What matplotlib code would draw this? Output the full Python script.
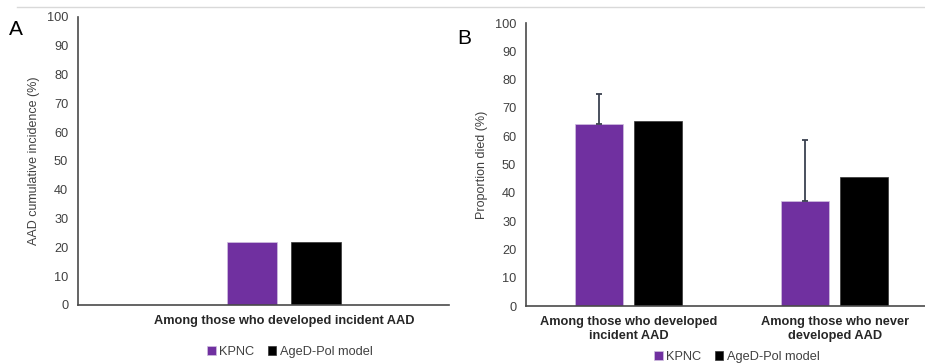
import numpy as np
import matplotlib.pyplot as plt
from matplotlib.lines import Line2D

plt.rcParams['font.family'] = ['Liberation Sans', 'DejaVu Sans']

# data
series = ['KPNC', 'AgeD-Pol model']
colors = ['#7030A0', '#000000']

cats_a = ['Among those who developed incident AAD']
vals_a = {'KPNC': [21.9], 'AgeD-Pol model': [21.7]}

cats_b = ['Among those who developed\nincident AAD', 'Among those who never\ndeveloped AAD']
vals_b = {'KPNC': [64.2, 37.2], 'AgeD-Pol model': [65.5, 45.6]}
err_b = [10.8, 21.5]  # upper error for KPNC

axcol = '#4a4a4a'
txtcol = '#404040'
fs = 9.2

fig = plt.figure(figsize=(9.25, 3.63), dpi=100)
fig.add_artist(Line2D([0.018, 1.0], [0.98, 0.98], color='#d9d9d9', lw=1))

def style(ax, ylabel):
    ax.set_ylim(0, 100)
    ax.set_yticks(np.arange(0, 101, 10))
    for s in ['top', 'right']:
        ax.spines[s].set_visible(False)
    for s in ['left', 'bottom']:
        ax.spines[s].set_color(axcol)
        ax.spines[s].set_linewidth(1.2)
    ax.tick_params(axis='y', length=0, pad=7, labelsize=fs, labelcolor=txtcol)
    ax.tick_params(axis='x', length=0, pad=7.5)
    ax.set_ylabel(ylabel, fontsize=9, color=txtcol, labelpad=5)
    for lab in ax.get_xticklabels():
        lab.set_fontweight('bold')
        lab.set_fontsize(fs)
        lab.set_color('#262626')

def add_legend(ax, pos):
    ax.legend(loc='center', bbox_to_anchor=pos, ncol=2, frameon=False,
              fontsize=fs, handlelength=0.65, handleheight=0.65, handletextpad=0.25,
              columnspacing=1.1, labelcolor=txtcol)

# panel A
axA = fig.add_axes([0.0843, 0.1598, 0.4011, 0.7934])
w = 0.2
x = np.arange(len(cats_a))
for i, s in enumerate(series):
    off = (i - 0.5) * (w + 0.056)
    axA.bar(x + off, vals_a[s], width=w, color=colors[i],
            edgecolor='#d0c0e0' if i == 0 else '#333333', linewidth=0.5, label=s)
axA.set_xlim(-0.826, 0.658)
axA.set_xticks(x)
axA.set_xticklabels(cats_a)
style(axA, 'AAD cumulative incidence (%)')
add_legend(axA, (0.571, -0.163))
fig.text(0.010, 0.92, 'A', fontsize=15, color='#000000', va='center')

# panel B
axB = fig.add_axes([0.5686, 0.157, 0.4454, 0.7796])
w = 0.233
x = np.arange(len(cats_b))
for i, s in enumerate(series):
    off = (i - 0.5) * (w + 0.053)
    axB.bar(x + off, vals_b[s], width=w, color=colors[i],
            edgecolor='#d0c0e0' if i == 0 else '#333333', linewidth=0.5, label=s)
    if s == 'KPNC':
        axB.errorbar(x + off, vals_b[s], yerr=[np.zeros(len(err_b)), err_b], fmt='none',
                     ecolor='#3b4250', elinewidth=1.3, capsize=2.2, capthick=1.3)
axB.set_xlim(-0.5, 1.5)
axB.set_xticks(x)
axB.set_xticklabels(cats_b, linespacing=1.2)
style(axB, 'Proportion died (%)')
add_legend(axB, (0.512, -0.18))
fig.text(0.494, 0.895, 'B', fontsize=15, color='#000000', va='center')

fig.savefig('out.png', dpi=100)
